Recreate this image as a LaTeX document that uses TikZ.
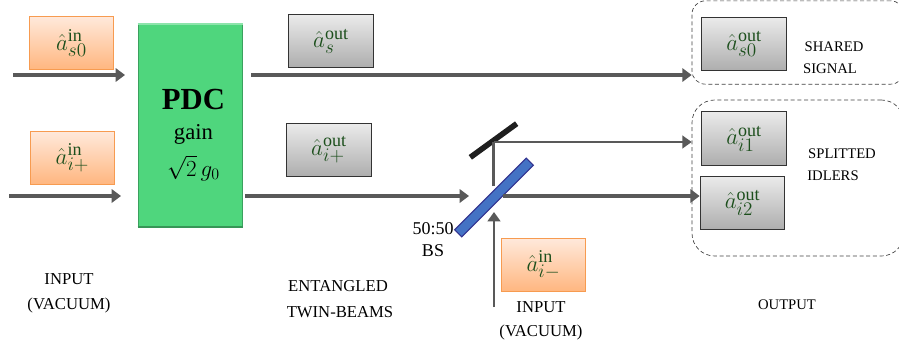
\documentclass[tikz,border=0pt]{standalone}
\usepackage{fontspec}
\setmainfont{Liberation Serif}
\usetikzlibrary{arrows.meta}
\DeclareMathSizes{16}{16}{13.5}{10}
\definecolor{beamgray}{HTML}{595959}
\definecolor{hatgreen}{HTML}{1C4F1C}
\definecolor{inedge}{HTML}{F79B50}
\definecolor{intop}{HTML}{FFE9DB}
\definecolor{inbottom}{HTML}{FFB67F}
\definecolor{pdcgreen}{HTML}{4FD67D}
\begin{document}
\begin{tikzpicture}[x=0.75pt,y=-0.75pt,
        in node/.style={draw=inedge,line width=0.8pt,top color=intop,bottom color=inbottom,
            minimum width=63.5pt,minimum height=40pt,inner sep=0pt,text=hatgreen,font=\fontsize{16}{18}\selectfont},
        out node/.style={draw=black!80,line width=0.8pt,top color=black!8,bottom color=black!32,
            minimum width=63.5pt,minimum height=40pt,inner sep=0pt,text=hatgreen,font=\fontsize{16}{18}\selectfont},
        group node/.style={draw=black!75,densely dashed,line width=0.5pt,rounded corners=10pt,inner sep=0pt},
        big text/.style={font=\fontsize{12.5}{15}\selectfont,inner sep=0pt},
        small text/.style={font=\fontsize{11}{13}\selectfont,inner sep=0pt},
        beam/.style={draw=beamgray,line width=2.3pt},
        beam tip/.style={beam,-{Triangle[length=7pt,width=10pt]}},
        thin beam/.style={draw=beamgray,line width=2pt},
        thin tip/.style={thin beam,-{Triangle[length=7pt,width=9.5pt]}}]

        \useasboundingbox (0,0) rectangle (899,351);

        % dashed groups first, they sit behind the boxes
        \node[group node,minimum width=159pt,minimum height=62.5pt] (signal group) at (798,42.5) {};
        \node[group node,minimum width=159pt,minimum height=117pt,rounded corners=17pt] (idler group) at (798,178) {};

        \node[draw=pdcgreen!75!black,line width=0.8pt,fill=pdcgreen,
            minimum width=78.5pt,minimum height=152pt,inner sep=0pt] (pdc) at (190.5,125.5) {};
        \draw[pdcgreen!65!white,line width=1.4pt] (pdc.north west) -- (pdc.north east);
        \draw[pdcgreen!70!black,line width=1.4pt] (pdc.south west) -- (pdc.south east);
        \node[font=\fontsize{23}{26}\selectfont\bfseries,inner sep=0pt] (pdc name) at (193.5,99) {PDC};
        \node[font=\fontsize{17}{20}\selectfont,inner sep=0pt] (pdc gain) at (193.5,134) {gain};
        \node[font=\fontsize{16.5}{20}\selectfont,inner sep=0pt] (pdc value) at (193.5,168) {$\sqrt{2}\,g_0$};

        \node[in node] (in s) at (71.5,43) {$\hat{a}^{\mathrm{in}}_{s0}$};
        \node[in node] (in i) at (72.5,158) {$\hat{a}^{\mathrm{in}}_{i+}$};
        \node[in node] (in v) at (543.5,265) {$\hat{a}^{\mathrm{in}}_{i-}$};

        \node[out node] (mid s) at (331,41) {$\hat{a}^{\mathrm{out}}_{s}$};
        \node[out node] (mid i) at (329,150) {$\hat{a}^{\mathrm{out}}_{i+}$};
        \node[out node] (out s) at (744,44) {$\hat{a}^{\mathrm{out}}_{s0}$};
        \node[out node] (out a) at (744,138.5) {$\hat{a}^{\mathrm{out}}_{i1}$};
        \node[out node] (out b) at (742.5,203) {$\hat{a}^{\mathrm{out}}_{i2}$};

        \node[rotate=36,fill=black!88,minimum width=43pt,minimum height=4.2pt,inner sep=0pt] (mirror) at (493.5,140.5) {};
        \node[rotate=45,draw=blue!45!black!80,line width=0.8pt,fill={rgb,255:red,68;green,114;blue,196},
            minimum width=76pt,minimum height=7.5pt,inner sep=0pt] (bs) at (494,197.5) {};

        \coordinate (s start) at (13,75);
        \coordinate (s end) at (125,75);
        \coordinate (i start) at (9,196);
        \coordinate (i end) at (121,196);
        \coordinate (pdc s) at (251,75);
        \coordinate (pdc i) at (245,196);
        \coordinate (bs left) at (469,196);
        \coordinate (bs right) at (503,196);
        \coordinate (bs top) at (493.5,186);
        \coordinate (mirror foot) at (493.5,142);
        \coordinate (vac start) at (494,307);
        \coordinate (vac end) at (494,212);

        \path
            (s start) edge [beam tip] (s end)
            (i start) edge [beam tip] (i end)
            (pdc s) edge [beam tip] (signal group.west |- pdc s)
            (pdc i) edge [beam tip] (bs left)
            (bs right) edge [beam tip] (out b.west |- bs right);
        \path
            (bs top) edge [thin beam] (mirror foot)
            (mirror foot) edge [thin tip] (idler group.west |- mirror foot)
            (vac start) edge [thin tip] (vac end);

        \node[big text] (in left a) at (69,279) {INPUT};
        \node[big text] (in left b) at (69,305) {(VACUUM)};
        \node[big text] (twin a) at (338,286) {ENTANGLED};
        \node[big text] (twin b) at (340,312) {TWIN-BEAMS};
        \node[big text] (in right a) at (541,307) {INPUT};
        \node[big text] (in right b) at (541,332) {(VACUUM)};
        \node[font=\fontsize{13.5}{16}\selectfont,inner sep=0pt] (bs a) at (433,229) {50:50};
        \node[font=\fontsize{13.5}{16}\selectfont,inner sep=0pt] (bs b) at (433,251) {BS};
        \node[small text] (out label) at (787,305) {OUTPUT};
        \node[small text] (shared a) at (834,47) {SHARED};
        \node[small text] (shared b) at (830,69) {SIGNAL};
        \node[small text] (split a) at (842,154) {SPLITTED};
        \node[small text] (split b) at (833,176) {IDLERS};
    \end{tikzpicture}
\end{document}
